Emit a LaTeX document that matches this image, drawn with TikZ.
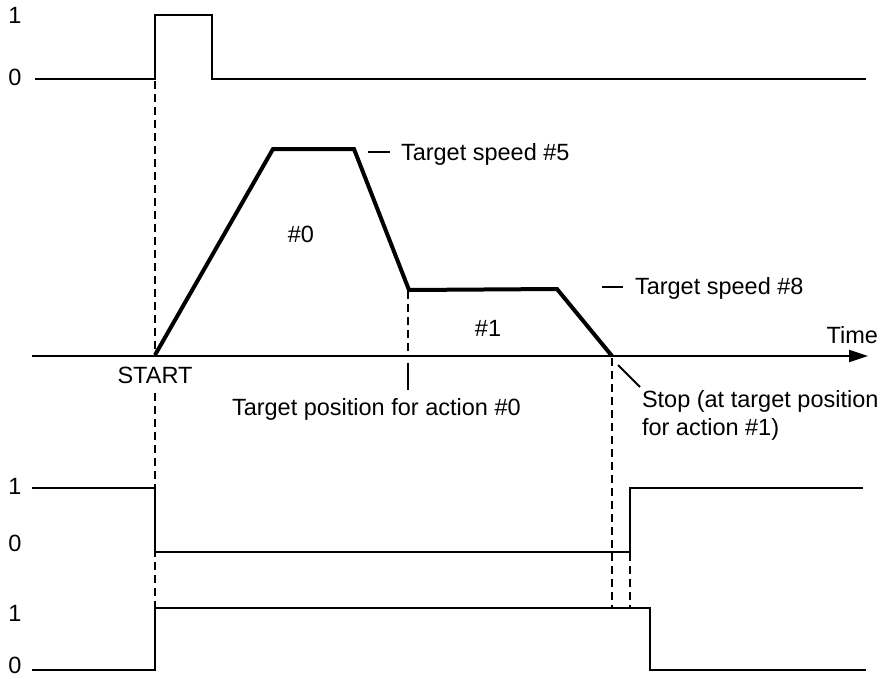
\documentclass[tikz,border=0pt]{standalone}
\usepackage{fontspec}
\setmainfont{Liberation Sans}
\usetikzlibrary{arrows.meta}
\begin{document}
\begin{tikzpicture}[x=1pt,y=-1pt,
  sig/.style={line width=2pt, line join=miter},
  prof/.style={line width=4pt, line join=miter},
  guide/.style={line width=2.2pt, dash pattern=on 8pt off 5pt},
  leader/.style={line width=1.8pt},
  txt/.style={font=\fontsize{23.5}{28}\selectfont, inner sep=0pt, outer sep=0pt}]
\useasboundingbox (0,0) rectangle (892,678);

% level labels
\node[txt, anchor=base] (a1) at (15,23) {1};
\node[txt, anchor=base] (a0) at (15,85) {0};
\node[txt, anchor=base] (b1) at (15,494) {1};
\node[txt, anchor=base] (b0) at (15,551) {0};
\node[txt, anchor=base] (c1) at (15,621) {1};
\node[txt, anchor=base] (c0) at (15,673.5) {0};

% signal waveforms
\draw[sig] (35,79) -- (155,79) -- (155,15) -- (212,15) -- (212,79) -- (866,79);
\draw[sig] (32,488) -- (155,488) -- (155,552) -- (630,552) -- (630,488) -- (863,488);
\draw[sig] (32,670) -- (155,670) -- (155,608) -- (650,608) -- (650,670) -- (866,670);

% dashed guides
\draw[guide] (155,81) -- (155,355);
\draw[guide] (155,393) -- (155,608);
\draw[guide] (408,291) -- (408,355);
\draw[leader] (408,363) -- (408,390);
\draw[guide] (612,358) -- (612,608);
\draw[guide] (630,553) -- (630,608);

% time axis
\coordinate (ax0) at (32,356);
\coordinate (ax1) at (868,356);
\draw[line width=2pt, -{Triangle[length=19pt,width=12pt]}] (ax0) -- (ax1);

% speed profile
\coordinate (p0) at (155,355);
\coordinate (p1) at (273,149);
\coordinate (p2) at (354,149);
\coordinate (p3) at (409,290);
\coordinate (p4) at (557,289);
\coordinate (p5) at (612,356);
\draw[prof] (p0) -- (p1) -- (p2) -- (p3) -- (p4) -- (p5);

% texts
\node[txt, anchor=base west] (ts5) at (401,160.5) {Target speed \#5};
\coordinate (d5a) at (368,152);
\coordinate (d5b) at (390,152);
\draw[leader] (d5a) -- (d5b);
\node[txt, anchor=base west] (ts8) at (635,294) {Target speed \#8};
\coordinate (d8a) at (602,287);
\coordinate (d8b) at (623,287);
\draw[leader] (d8a) -- (d8b);
\node[txt, anchor=base] (n0) at (301,242) {\#0};
\node[txt, anchor=base] (n1) at (488,336) {\#1};
\node[txt, anchor=base east] (time) at (878,343) {Time};
\node[txt, anchor=base] (start) at (155,383) {START};
\node[txt, anchor=base west] (tp0) at (232,415) {Target position for action \#0};
\node[txt, anchor=base west] (stop1) at (642,407) {Stop (at target position};
\node[txt, anchor=base west] (stop2) at (642,435) {for action \#1)};
\coordinate (sl0) at (618,365);
\coordinate (sl1) at (640,387);
\draw[leader] (sl0) -- (sl1);
\end{tikzpicture}
\end{document}
